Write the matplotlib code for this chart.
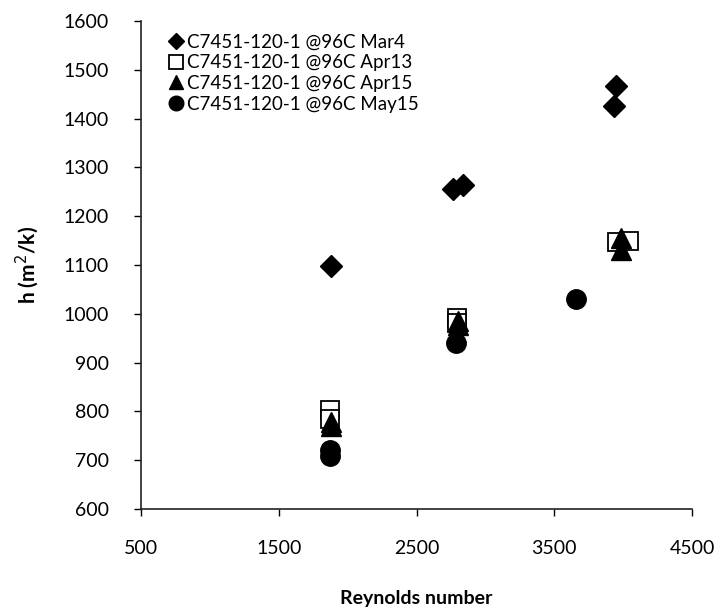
import matplotlib
matplotlib.use("Agg")
import matplotlib.pyplot as plt

plt.rcParams['font.family'] = ['Lato', 'DejaVu Sans']

labels = ["C7451-120-1 @96C Mar4", "C7451-120-1 @96C Apr13",
          "C7451-120-1 @96C Apr15", "C7451-120-1 @96C May15"]

mar4_x = [1877, 2767, 2835, 3934, 3948]
mar4_y = [1098, 1255, 1263, 1425, 1467]

apr13_x = [1874, 1874, 2792, 2792, 3953, 4045]
apr13_y = [803, 785, 992, 982, 1148, 1150]

apr15_x = [1880, 1880, 2800, 2800, 3985, 3985]
apr15_y = [778, 770, 985, 978, 1155, 1130]

may15_x = [1874, 1874, 2787, 3656]
may15_y = [720, 708, 940, 1030]

xticks = [500, 1500, 2500, 3500, 4500]
yticks = list(range(600, 1601, 100))

fig = plt.figure(figsize=(7.21, 6.14), dpi=100)
ax = fig.add_axes([141/721, 1-509/614, (692-141)/721, (509-21)/614])

ax.plot(mar4_x, mar4_y, linestyle='none', marker='D', markersize=11,
        color='black', label=labels[0])
ax.plot(apr13_x, apr13_y, linestyle='none', marker='s', markersize=13.5,
        markerfacecolor='white', markeredgecolor='black', markeredgewidth=1.3,
        label=labels[1])
ax.plot(apr15_x, apr15_y, linestyle='none', marker='^', markersize=14,
        color='black', label=labels[2])
ax.plot(may15_x, may15_y, linestyle='none', marker='o', markersize=14,
        color='black', label=labels[3])

ax.set_xlim(500, 4500)
ax.set_ylim(600, 1600)
ax.set_xticks(xticks)
ax.set_yticks(yticks)
ax.tick_params(direction='out', length=5, width=1, labelsize=14, colors='black')
ax.tick_params(axis='x', pad=17)
ax.tick_params(axis='y', pad=18)
for s in ['top', 'right']:
    ax.spines[s].set_visible(False)
for s in ['left', 'bottom']:
    ax.spines[s].set_linewidth(1.2)
    ax.spines[s].set_color('#222222')

ax.set_xlabel("Reynolds number", fontsize=14, fontweight='bold', labelpad=24)
ax.set_ylabel("h (m$^2$/k)", fontsize=15, fontweight='bold', labelpad=16)

leg = ax.legend(loc='upper left', bbox_to_anchor=(0.04, 0.99), frameon=False,
                fontsize=13.5, markerscale=0.75, handlelength=0.6,
                handletextpad=0.3, labelspacing=0.2, borderaxespad=0.0)

fig.savefig("out.png", dpi=100)
